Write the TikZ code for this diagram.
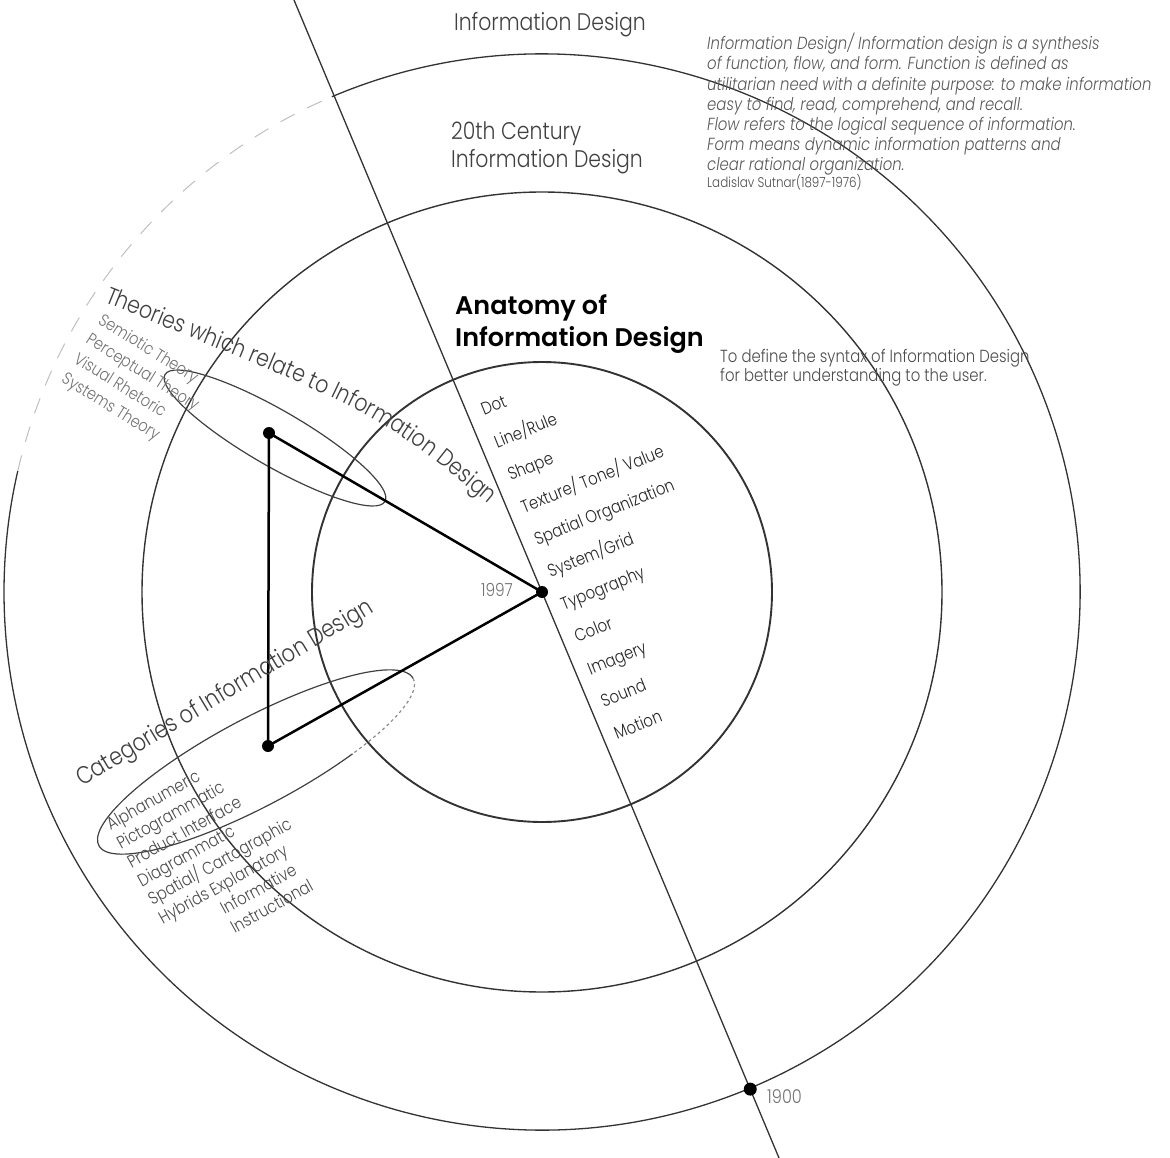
\documentclass[tikz,border=0pt]{standalone}
\usepackage{fontspec}
\IfFontExistsTF{Poppins Light}
  {\setmainfont{Poppins Light}[FakeStretch=0.85]}
  {\setmainfont{Poppins}[FakeStretch=0.85]}
\IfFontExistsTF{Poppins Light Italic}
  {\newfontfamily\quotefont{Poppins Light Italic}[FakeStretch=0.85]}
  {\newfontfamily\quotefont{Poppins}[FakeStretch=0.85,FakeSlant=0.2]}
\IfFontExistsTF{Poppins SemiBold}
  {\newfontfamily\headfont{Poppins SemiBold}}
  {\newfontfamily\headfont{Poppins}[FakeBold=2]}
\usetikzlibrary{decorations.text}
\newcommand{\fsz}[2]{\fontsize{#1}{#2}\selectfont}

\begin{document}
\begin{tikzpicture}
    [x=1pt, y=-1pt,
    ring/.style={draw=black!80, line width=1.3pt},
    spoke/.style={draw=black!80, line width=1.3pt},
    dot/.style={circle, fill=black, inner sep=0pt, minimum size=12pt},
    tri/.style={line width=2.5pt},
    loop/.style={draw=black!75, line width=1.2pt},
    big/.style={inner sep=0pt, text=black!75, font=\fsz{24}{28}},
    small/.style={inner sep=0pt, text=black!70, font=\fsz{17.5}{21.5}},
    element/.style={inner sep=0pt, anchor=base west, rotate=22, text=black!85, font=\fsz{17.5}{20}},
    year/.style={inner sep=0pt, text=black!55, font=\fsz{18}{20}}]

    \useasboundingbox (0,0) rectangle (1170,1158);

    % Centre and the dividing line
    \coordinate (O) at (542,592);
    \coordinate (ltop) at (294,0);
    \coordinate (lbot) at (779,1158);

    % Three rings
    \draw[ring, line width=1.9pt] (O) circle [radius=230];
    \draw[ring, line width=1.4pt] (O) circle [radius=400];
    \draw[ring] (O) ++(247:538) arc [start angle=247, end angle=553, radius=538];
    \draw[ring, draw=black!25, line width=1pt, dash pattern=on 16pt off 14pt] (O) ++(193:538) arc [start angle=193, end angle=247, radius=538];
    \draw[spoke] (ltop) -- (lbot);

    % Ellipses round the two lists
    \draw[loop, rotate around={-30:(275,438)}] (275,438) ellipse [x radius=127, y radius=28];
    \begin{scope}[shift={(256,762)}, rotate=28]
        \draw[loop] (60:178 and 44) arc [start angle=60, end angle=360, x radius=178, y radius=44];
        \draw[loop, draw=black!45, dashed] (0:178 and 44) arc [start angle=0, end angle=60, x radius=178, y radius=44];
    \end{scope}

    % Triangle and time points
    \node[dot] (apex) at (O) {};
    \node[dot] (tv1) at (269,433) {};
    \node[dot] (tv2) at (268,746) {};
    \draw[tri] (tv1.center) -- (apex.center) -- (tv2.center) -- cycle;
    \path (O) ++(67.27:539) node[dot, minimum size=13pt] (d1900) {};
    \node[year] (y1997) at (497,590) {1997};
    \node[year, anchor=west, font=\fsz{19}{20}] (y1900) at (767,1097) {1900};

    % Headings
    \node[big, anchor=base] (title) at (550,31) {Information Design};
    \node[big, anchor=north west, align=left] (century) at (451,122) {20th Century\\Information Design};
    \node[anchor=north west, align=left, inner sep=0pt, font=\headfont\fsz{25.5}{32}] (anatomy) at (455,294) {Anatomy of\\Information Design};
    \node[anchor=north west, align=left, inner sep=0pt, text=black!70, font=\fsz{17.5}{19.5}] (syntax) at (720,349) {To define the syntax of Information Design\\for better understanding to the user.};

    % Quote
    \node[anchor=north west, align=left, inner sep=0pt, text=black!65, font=\quotefont\fsz{17.5}{20.2}] (quote) at (707,33)
        {Information Design/ Information design is a synthesis\\
        of function, flow, and form. Function is defined as\\
        utilitarian need with a definite purpose: to make information\\
        easy to find, read, comprehend, and recall.\\
        Flow refers to the logical sequence of information.\\
        Form means dynamic information patterns and\\
        clear rational organization.};
    \node[anchor=base west, inner sep=0pt, text=black!70, font=\fsz{14}{16}] (sutnar) at (707,188) {Ladislav Sutnar(1897-1976)};

    % Theories
    \path[decorate, decoration={text along path, text color=black!75,
        text={|\fsz{24}{24}|Theories which relate to Information Design}}]
        (104,302) .. controls (381,414) .. (498,512);
    \node[small, anchor=north west, align=left, rotate=-32, text=black!55, font=\fsz{17}{23}] (theorylist) at (104,312)
        {Semiotic Theory\\Perceptual Theory\\Visual Rhetoric\\Systems Theory};

    % Categories
    \node[big, anchor=base west, rotate=31, font=\fsz{24.5}{28}] (catlabel) at (82,787) {Categories of Information Design};
    \node[small, anchor=north west, align=left, rotate=29] (catlist) at (104,819)
        {Alphanumeric\\Pictogrammatic\\Product Interface\\Diagrammatic\\Spatial/ Cartographic\\Hybrids Explanatory\\
        \hphantom{Hybrids\ }Informative\\\hphantom{Hybrids\ }Instructional};

    % Elements of the anatomy
    \foreach \txt [count=\k from 0] in {Dot, Line/Rule, Shape, Texture/ Tone/ Value, Spatial Organization,
        System/Grid, Typography, Color, Imagery, Sound, Motion}
        \node[element] (elem\k) at ({484+13.3*\k},{416+32.4*\k}) {\txt};

\end{tikzpicture}
\end{document}
